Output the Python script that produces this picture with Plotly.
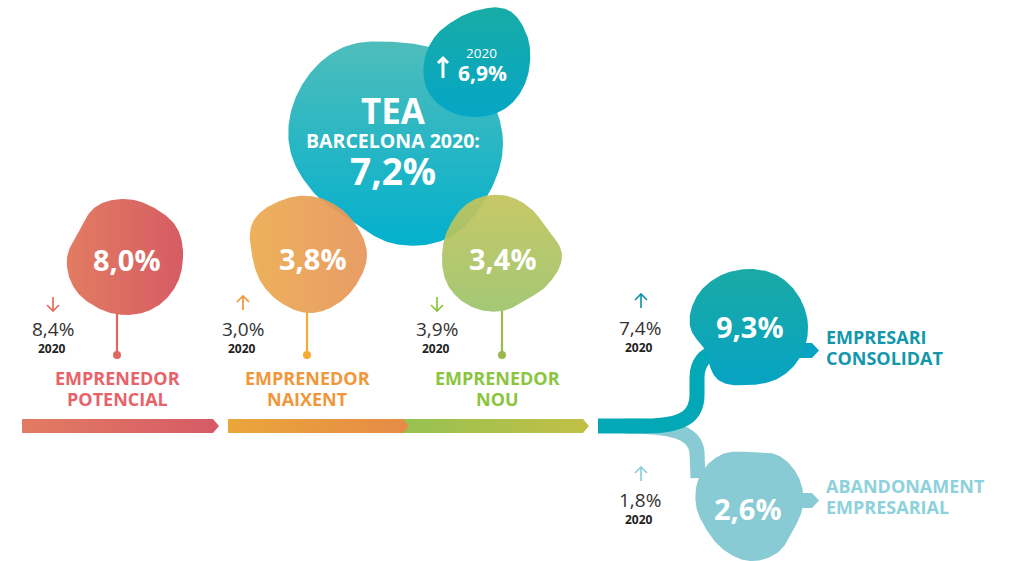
import numpy as np
import plotly.graph_objects as go

# ---------------- data ----------------
stages = ["EMPRENEDOR<br>POTENCIAL", "EMPRENEDOR<br>NAIXENT", "EMPRENEDOR<br>NOU",
          "EMPRESARI<br>CONSOLIDAT", "ABANDONAMENT<br>EMPRESARIAL"]
rate_now = [8.0, 3.8, 3.4, 9.3, 2.6]
rate_2020 = [8.4, 3.0, 3.9, 7.4, 1.8]
prev_year = "2020"
tea_title = ["TEA", "BARCELONA 2020:"]
tea_now = 7.2
tea_prev = 6.9

# ---------------- styling / layout ----------------
W, H = 1009, 561
FONT = "Open Sans"
DARK = "#333333"

def pct(v):
    return f"{v:.1f}".replace(".", ",") + "%"

def blob(cx, cy, radii, n=240):
    r = np.asarray(radii, float)
    k = len(r)
    t = np.linspace(0, k, n, endpoint=False)
    i = np.floor(t).astype(int)
    u = t - i
    p0, p1, p2, p3 = r[(i - 1) % k], r[i % k], r[(i + 1) % k], r[(i + 2) % k]
    rr = 0.5 * (2 * p1 + (-p0 + p2) * u + (2 * p0 - 5 * p1 + 4 * p2 - p3) * u ** 2
                + (-p0 + 3 * p1 - 3 * p2 + p3) * u ** 3)
    th = t / k * 2 * np.pi
    x = cx + rr * np.cos(th)
    y = cy + rr * np.sin(th)
    return np.append(x, x[0]), np.append(y, y[0])

# gradient tuples: (type, colour at left / bottom, colour at right / top)
stage_style = [
    dict(c=(125, 258), radii=[58, 58, 58, 57, 57, 59, 58, 53, 59, 59, 58, 60],
         grad=("horizontal", "#e27c62", "#d65c64"), opacity=1.0,
         label_col="#e8626a", arrow_col="#e0705f", stem_col="#e0665f",
         val_xy=(127, 259), stem=(117, 314, 355), label_xy=(117, 378),
         prev_xy=(53, 329), arrow_xy=(53, 297), label_anchor="center"),
    dict(c=(310, 255), radii=[57, 55, 56, 58, 56, 56, 58, 66, 62, 59, 56, 55],
         grad=("horizontal", "#ecab4f", "#e6955a"), opacity=0.93,
         label_col="#f0973b", arrow_col="#f0963a", stem_col="#f4ac33",
         val_xy=(313, 258), stem=(307, 312, 355), label_xy=(307, 378),
         prev_xy=(243, 329), arrow_xy=(243, 296), label_anchor="center"),
    dict(c=(502, 255), radii=[60, 55, 51, 56, 60, 62, 60, 60, 62, 60, 55, 52],
         grad=("vertical", "#9dc46b", "#c3c45b"), opacity=0.93,
         label_col="#8bc540", arrow_col="#8bc540", stem_col="#9cb84c",
         val_xy=(503, 258), stem=(502, 311, 355), label_xy=(497, 378),
         prev_xy=(437, 329), arrow_xy=(437, 297), label_anchor="center"),
    dict(c=(749, 326), radii=[59, 60, 60, 59, 62, 50, 59, 60, 58, 57, 58, 58],
         grad=("vertical", "#06a3c3", "#1aaaa5"), opacity=1.0,
         label_col="#1297ad", arrow_col="#1497ad", stem_col=None,
         val_xy=(750, 326), stem=None, label_xy=(825, 337),
         prev_xy=(640, 328), arrow_xy=(641, 294), label_anchor="left"),
    dict(c=(750, 505), radii=[53, 50, 55, 56, 52, 50, 54, 58, 58, 53, 57, 56],
         grad=("vertical", "#88cbd4", "#88cbd4"), opacity=1.0,
         label_col="#8dd1dc", arrow_col="#8ed0da", stem_col=None,
         val_xy=(748, 508), stem=None, label_xy=(825, 486),
         prev_xy=(640, 500), arrow_xy=(641, 467), label_anchor="left"),
]

fig = go.Figure()

def add_fill(x, y, grad, opacity=1.0):
    gtype, c0, c1 = grad
    fig.add_trace(go.Scatter(
        x=x, y=y, mode="lines", fill="toself",
        line=dict(width=0, color="rgba(0,0,0,0)"),
        fillgradient=dict(type=gtype, colorscale=[[0, c0], [1, c1]]),
        opacity=opacity, hoverinfo="skip", showlegend=False))

# ---- flows (below blobs) ----
fig.add_shape(type="path", layer="below",
              path="M 625 426 C 672 426, 695 432, 697 452 L 698 478",
              line=dict(color="#88cbd4", width=15))
fig.add_shape(type="path", layer="below",
              path="M 598 426 L 645 426 C 685 426, 697 415, 697 395 L 697 378 C 697 362, 705 355, 718 350",
              line=dict(color="#03a8b6", width=15))
# tabs
fig.add_shape(type="path", layer="below", path="M 795 343 L 812 343 L 819 350.5 L 812 358 L 795 358 Z",
              fillcolor="#06a3c3", line=dict(width=0))
fig.add_shape(type="path", layer="below", path="M 795 493 L 812 493 L 819 500.5 L 812 508 L 795 508 Z",
              fillcolor="#88cbd4", line=dict(width=0))

# ---- bars ----
def bar(x0, x1, grad):
    add_fill([x0, x1 - 6, x1, x1 - 6, x0, x0], [419, 419, 426, 433, 433, 419], grad)

bar(22, 219, ("horizontal", "#e27c62", "#d65a66"))
bar(402, 589, ("horizontal", "#96c152", "#c2c045"))
bar(228, 409, ("horizontal", "#eaa63a", "#e68a46"))

# ---- TEA blobs ----
x, y = blob(395, 144, [108, 106, 108, 100, 88, 95, 106, 110, 110, 102, 104, 106])
add_fill(x, y, ("vertical", "#03b0cd", "#4ebdbb"))
x, y = blob(478, 62, [52, 52, 54, 55, 57, 58, 54, 50, 48, 52, 60, 56])
add_fill(x, y, ("vertical", "#05a6c6", "#18aca6"))

# ---- stage blobs ----
for st in stage_style:
    x, y = blob(st["c"][0], st["c"][1], st["radii"])
    add_fill(x, y, st["grad"], st["opacity"])

def txt(x, y, s, size, color, bold=False, xanchor="center"):
    fig.add_annotation(x=x, y=y, xref="x", yref="y", showarrow=False,
                       text=f"<b>{s}</b>" if bold else s,
                       font=dict(family=FONT, size=size, color=color),
                       xanchor=xanchor, yanchor="middle", borderpad=0)

def arrow(x, ytop, up, color, width=1.7, length=14, half=6):
    ybot = ytop + length
    if up:
        p = f"M {x} {ybot} L {x} {ytop} M {x-half} {ytop+half} L {x} {ytop} L {x+half} {ytop+half}"
    else:
        p = f"M {x} {ytop} L {x} {ybot} M {x-half} {ybot-half} L {x} {ybot} L {x+half} {ybot-half}"
    fig.add_shape(type="path", path=p, line=dict(color=color, width=width), layer="above")

for name, now, prev, st in zip(stages, rate_now, rate_2020, stage_style):
    txt(st["val_xy"][0], st["val_xy"][1], pct(now), 29, "white", bold=True)
    if st["stem"]:
        sx, sy0, sy1 = st["stem"]
        fig.add_shape(type="line", x0=sx, x1=sx, y0=sy0, y1=sy1,
                      line=dict(color=st["stem_col"], width=2.2))
        fig.add_shape(type="circle", x0=sx - 4, x1=sx + 4, y0=sy1 - 4, y1=sy1 + 4,
                      fillcolor=st["stem_col"], line=dict(width=0))
    lines = name.split("<br>")
    lx, ly = st["label_xy"]
    for j, ln in enumerate(lines):
        txt(lx, ly + 20.5 * j, ln, 18, st["label_col"], bold=True, xanchor=st["label_anchor"])
    px, py = st["prev_xy"]
    txt(px, py, pct(prev), 19, DARK)
    txt(px - 1, py + 19, prev_year, 12, "#222222", bold=True)
    ax, ay = st["arrow_xy"]
    arrow(ax, ay, now > prev, st["arrow_col"])

# TEA texts
txt(393, 110, tea_title[0], 35, "white", bold=True)
txt(393, 140, tea_title[1], 19.5, "white", bold=True)
txt(393, 170, pct(tea_now), 37, "white", bold=True)
txt(481, 53, prev_year, 13.5, "white")
txt(482, 73, pct(tea_prev), 21, "white", bold=True)
arrow(443, 58, tea_now > tea_prev, "white", width=3, length=20, half=5)

fig.update_layout(
    width=W, height=H, margin=dict(l=0, r=0, t=0, b=0),
    paper_bgcolor="white", plot_bgcolor="white",
    xaxis=dict(range=[0, W], visible=False, fixedrange=True),
    yaxis=dict(range=[H, 0], visible=False, fixedrange=True),
    showlegend=False,
)

fig.write_html("out.html", config={"displayModeBar": False},
               post_script="document.body.style.margin='0';")
